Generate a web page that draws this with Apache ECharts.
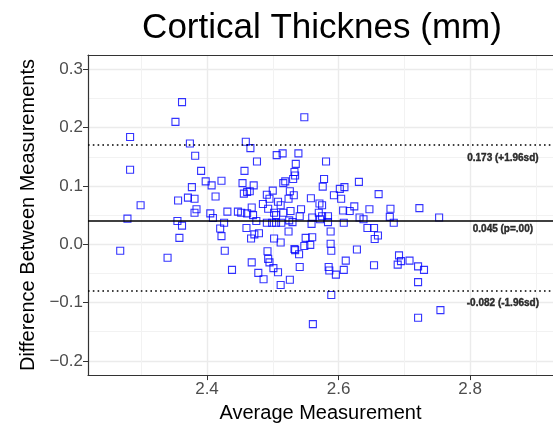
<!DOCTYPE html>
<html>
<head>
<meta charset="utf-8">
<script src="https://cdn.jsdelivr.net/npm/echarts@6/dist/echarts.min.js"></script>
<style>
html,body{margin:0;padding:0;background:#fff;}
#chart{width:553px;height:428px;}
</style>
</head>
<body>
<div id="chart"></div>
<script>
// ---- data ----
const averageMeasurement = [
  2.362,2.352,2.283,2.374,2.459,2.382,2.283,2.391,2.457,2.398,
  2.422,2.407,2.377,2.454,2.371,2.381,2.413,2.356,2.456,2.299,
  2.384,2.381,2.405,2.431,2.447,2.452,2.461,2.470,2.279,2.355,
  2.362,2.409,2.426,2.358,2.268,2.340,2.420,2.422,2.427,2.438,
  2.460,2.548,2.466,2.506,2.515,2.539,2.476,2.535,2.581,2.533,
  2.534,2.531,2.519,2.516,2.578,2.576,2.631,2.609,2.602,2.471,
  2.500,2.526,2.461,2.465,2.491,2.532,2.524,2.593,2.604,2.661,
  2.558,2.495,2.508,2.512,2.485,2.571,2.575,2.468,2.493,2.543,
  2.527,2.607,2.624,2.617,2.647,2.679,2.502,2.505,2.516,2.541,
  2.560,2.570,2.575,2.584,2.475,2.491,2.499,2.505,2.513,2.525,
  2.530,2.559,2.572,2.584,2.608,2.632,2.638,2.678,2.684,2.472,
  2.479,2.467,2.524,2.588,2.644,2.654,2.502,2.512,2.550,2.560,
  2.548,2.557,2.588,2.589,2.533,2.534,2.540,2.492,2.655,2.660,
  2.628,2.468,2.493,2.495,2.501,2.478,2.486,2.508,2.541,2.526,
  2.512,2.585,2.586,2.596,2.608,2.611,2.654,2.692,2.690,2.589,
  2.561,2.723,2.753,2.695,2.708,2.721,2.730,2.721,2.755,2.721
];
const differenceMeasurement = [
  0.244,0.210,0.184,0.173,0.176,0.152,0.128,0.126,0.126,0.108,
  0.109,0.101,0.098,0.105,0.080,0.078,0.082,0.075,0.087,0.067,
  0.060,0.054,0.053,0.056,0.056,0.054,0.053,0.050,0.044,0.040,
  0.032,0.045,0.037,0.011,-0.011,-0.023,0.027,0.014,-0.011,-0.044,
  0.028,0.218,0.165,0.153,0.156,0.156,0.142,0.138,0.142,0.124,
  0.118,0.112,0.108,0.105,0.112,0.099,0.107,0.098,0.095,0.101,
  0.092,0.091,0.090,0.091,0.085,0.084,0.078,0.084,0.078,0.086,
  0.079,0.078,0.073,0.067,0.069,0.070,0.067,0.063,0.061,0.060,
  0.057,0.058,0.065,0.057,0.060,0.061,0.054,0.050,0.054,0.048,
  0.046,0.054,0.048,0.048,0.040,0.037,0.037,0.037,0.037,0.041,
  0.038,0.035,0.043,0.038,0.037,0.046,0.043,0.047,0.037,0.017,
  0.019,0.010,0.022,0.022,0.028,0.028,0.010,0.003,0.011,0.012,
  -0.003,-0.001,0.001,-0.011,-0.008,-0.010,-0.017,-0.012,0.009,0.015,
  -0.009,-0.031,-0.025,-0.031,-0.041,-0.049,-0.060,-0.048,-0.039,-0.061,
  -0.070,-0.039,-0.045,-0.052,-0.044,-0.028,-0.036,-0.019,-0.035,-0.087,
  -0.137,0.062,0.046,-0.029,-0.028,-0.038,-0.044,-0.065,-0.113,-0.126
];
const meanDiff = 0.045;
const upperLimit = 0.173;
const lowerLimit = -0.082;
const limitLabels = ['0.173 (+1.96sd)', '0.045 (p=.00)', '-0.082 (-1.96sd)'];
const labelX = 2.85;
const labelY = [0.148, 0.0255, -0.1013];

const xRange = [2.219, 2.9262];
const yRange = [-0.2245, 0.3248];
const xMajorTicks = [2.4, 2.6, 2.8];
const xMinorTicks = [2.3, 2.5, 2.7, 2.9];
const yMajorTicks = [-0.2, -0.1, 0.0, 0.1, 0.2, 0.3];
const yMinorTicks = [-0.15, -0.05, 0.05, 0.15, 0.25];

// ---- chart ----
const FONT = 'Liberation Sans, Arial, Helvetica, sans-serif';
const points = averageMeasurement.map((x, i) => [x, differenceMeasurement[i]]);
const fmtNum = v => (v < 0 ? '\u2212' : '') + Math.abs(v).toFixed(1);
const border = {show: true, onZero: false, lineStyle: {color: '#333333', width: 1.2}};

const chart = echarts.init(document.getElementById('chart'), null, {renderer: 'canvas'});
chart.setOption({
  backgroundColor: '#ffffff',
  animation: false,
  textStyle: {fontFamily: FONT},
  title: {
    text: 'Cortical Thicknes (mm)',
    left: 317,
    top: 6,
    textAlign: 'center',
    textStyle: {fontFamily: FONT, fontSize: 35, fontWeight: 'normal', color: '#000'}
  },
  grid: {
    left: 88, top: 55, right: 0, bottom: 50,
    show: false
  },
  xAxis: [{
    type: 'value',
    min: xRange[0], max: xRange[1],
    position: 'bottom',
    name: 'Average Measurement',
    nameLocation: 'middle',
    nameGap: 20,
    nameTextStyle: {fontFamily: FONT, fontSize: 20, color: '#000'},
    axisLine: border,
    axisTick: {show: true, length: 5, customValues: xMajorTicks, lineStyle: {color: '#333333', width: 1}},
    axisLabel: {customValues: xMajorTicks, color: '#4d4d4d', fontSize: 17, margin: 6, fontFamily: FONT,
                formatter: v => v.toFixed(1)},
    splitLine: {show: true, lineStyle: {color: '#ebebeb', width: 1.4}}
  }, {
    type: 'value',
    min: xRange[0], max: xRange[1],
    position: 'top',
    axisLine: border,
    axisTick: {show: false, customValues: xMinorTicks},
    axisLabel: {show: false, customValues: xMinorTicks},
    splitLine: {show: true, lineStyle: {color: '#f2f2f2', width: 1}}
  }],
  yAxis: [{
    type: 'value',
    min: yRange[0], max: yRange[1],
    position: 'left',
    name: 'Difference Between Measurements',
    nameLocation: 'middle',
    nameRotate: 90,
    nameGap: 48,
    nameTextStyle: {fontFamily: FONT, fontSize: 20, color: '#000'},
    axisLine: border,
    axisTick: {show: true, length: 5, customValues: yMajorTicks, lineStyle: {color: '#333333', width: 1}},
    axisLabel: {customValues: yMajorTicks, color: '#4d4d4d', fontSize: 17, margin: 5, fontFamily: FONT,
                formatter: fmtNum},
    splitLine: {show: true, lineStyle: {color: '#ebebeb', width: 1.4}}
  }, {
    type: 'value',
    min: yRange[0], max: yRange[1],
    position: 'left',
    axisLine: {show: false},
    axisTick: {show: false, customValues: yMinorTicks},
    axisLabel: {show: false, customValues: yMinorTicks},
    splitLine: {show: true, lineStyle: {color: '#f2f2f2', width: 1}}
  }],
  series: [{
    type: 'scatter',
    data: points,
    symbol: 'rect',
    symbolSize: 7,
    itemStyle: {color: 'rgba(0,0,0,0)', borderColor: '#0000ff', borderWidth: 1.1},
    z: 3,
    markLine: {
      silent: true,
      symbol: ['none', 'none'],
      label: {show: false},
      animation: false,
      data: [
        {yAxis: meanDiff, lineStyle: {color: '#000', width: 1.6, type: 'solid'}},
        {yAxis: upperLimit, lineStyle: {color: '#000', width: 1.6, type: [1.6, 3.2]}},
        {yAxis: lowerLimit, lineStyle: {color: '#000', width: 1.6, type: [1.6, 3.2]}}
      ]
    }
  }, {
    type: 'scatter',
    symbolSize: 0,
    silent: true,
    z: 5,
    data: labelY.map((y, i) => ({value: [labelX, y], name: limitLabels[i]})),
    label: {
      show: true,
      position: 'inside',
      formatter: p => p.name,
      fontFamily: FONT,
      fontSize: 10,
      fontWeight: 'bold',
      color: '#000',
      textBorderColor: '#000',
      textBorderWidth: 0.4
    }
  }]
});
</script>
</body>
</html>
